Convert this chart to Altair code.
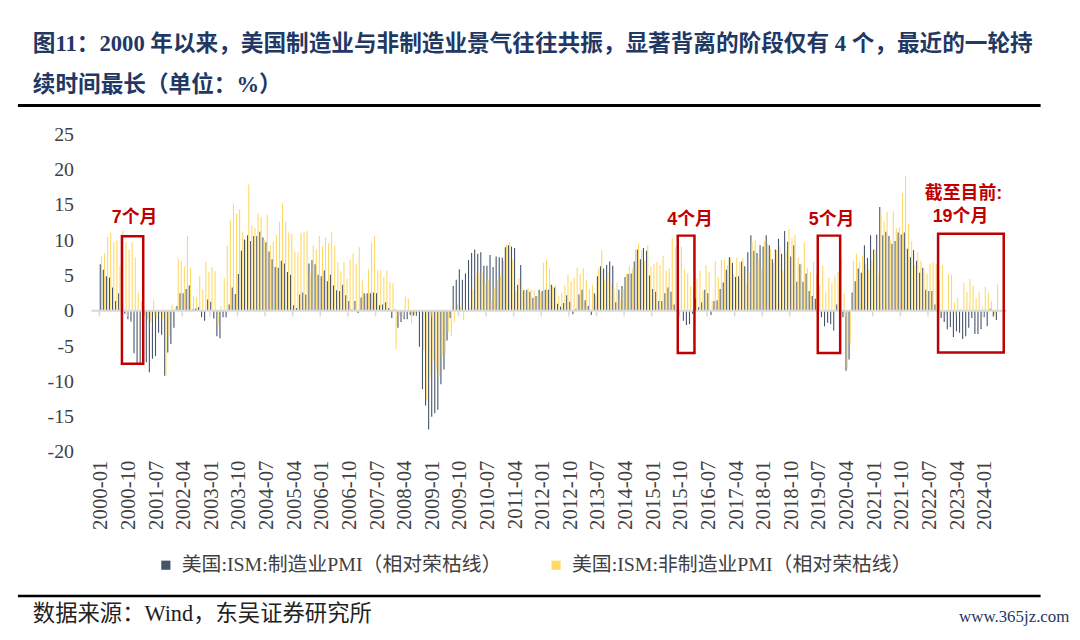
import altair as alt
import pandas as pd

S_MFG = "美国:ISM:制造业PMI（相对荣枯线）"
S_SVC = "美国:ISM:非制造业PMI（相对荣枯线）"

# ISM manufacturing PMI minus 50, monthly 2000-01 .. 2024-05
mfg = [
    6.6, 5.8, 4.9, 4.7, 3.3, 1.4, 2.5, -0.1, -0.4, -1.2, -1.5, -6.0,        # 2000
    -7.5, -7.7, -7.0, -7.3, -8.7, -6.8, -6.4, -3.1, -3.4, -9.2, -5.9, -4.7,  # 2001
    -2.4, 0.7, 2.5, 2.5, 3.1, 3.6, 0.2, 0.3, 0.5, -0.9, -1.4, 1.6,          # 2002
    1.3, -1.1, -3.6, -3.9, -0.9, -0.9, 0.9, 3.3, 2.4, 5.2, 8.5, 10.1,       # 2003
    10.7, 9.9, 10.6, 10.6, 11.2, 10.4, 9.7, 8.4, 7.3, 6.2, 6.1, 7.1,        # 2004
    6.7, 5.5, 5.1, 0.8, 0.4, 2.3, 2.6, 2.3, 6.7, 7.2, 6.6, 5.1,             # 2005
    4.9, 5.7, 4.2, 5.1, 3.6, 2.9, 2.8, 3.7, 2.2, 1.4, 0.2, 1.4,             # 2006
    -0.3, 1.9, 2.5, 2.5, 2.5, 2.6, 2.5, 0.8, 0.9, 1.2, 0.4, -1.0,           # 2007
    0.2, -2.4, -1.6, -1.2, -1.2, -0.6, -0.7, -0.7, -5.1, -11.1, -13.4, -16.8,  # 2008
    -15.0, -14.5, -14.0, -10.4, -8.3, -4.2, -1.0, 3.5, 4.4, 5.9, 4.4, 5.3,  # 2009
    7.2, 8.2, 8.7, 8.1, 8.3, 6.4, 6.4, 7.9, 6.2, 7.7, 7.6, 7.5,             # 2010
    9.0, 9.3, 9.1, 8.9, 3.7, 6.5, 2.9, 3.0, 2.7, 1.8, 2.1, 3.0,             # 2011
    2.8, 3.0, 3.0, 3.7, 3.3, 1.0, 0.6, 1.1, 2.2, 1.3, -0.5, 0.3,            # 2012
    2.3, 3.0, 1.5, 0.7, -0.6, 2.5, 4.9, 6.3, 6.0, 6.5, 7.0, 6.4,            # 2013
    1.2, 3.0, 3.5, 4.8, 5.2, 5.3, 7.0, 8.7, 7.3, 8.9, 8.5, 5.0,             # 2014
    3.1, 2.7, 1.4, 1.4, 2.5, 3.3, 2.7, 0.9, 0.2, 0.1, -1.4, -2.0,           # 2015
    -1.9, -0.4, 1.7, 0.5, 1.2, 3.0, 2.5, -0.6, 1.4, 1.5, 3.1, 4.0,          # 2016
    5.8, 7.6, 6.8, 4.8, 4.9, 7.0, 6.3, 8.3, 10.7, 8.5, 8.2, 9.3,            # 2017
    9.1, 10.7, 9.3, 7.3, 8.7, 10.2, 8.1, 11.3, 9.8, 7.7, 9.3, 4.1,          # 2018
    6.6, 4.1, 5.3, 2.8, 2.1, 1.7, 1.2, -0.9, -2.2, -1.7, -1.9, -2.8,        # 2019
    0.9, 0.1, -0.9, -8.5, -6.9, 2.6, 4.2, 6.0, 5.4, 9.3, 7.5, 10.7,         # 2020
    8.7, 10.8, 14.7, 10.7, 11.2, 10.6, 9.5, 9.9, 11.1, 10.8, 11.1, 8.8,     # 2021
    7.6, 8.6, 7.1, 5.4, 6.1, 3.0, 2.8, 2.8, 0.9, 0.2, -1.0, -1.6,           # 2022
    -2.6, -2.3, -3.7, -2.9, -3.1, -4.0, -3.6, -2.4, -1.0, -3.3, -3.3, -2.6, # 2023
    -0.9, -2.2, 0.3, -0.8, -1.3,                                            # 2024
]

# ISM non-manufacturing PMI minus 50, monthly 2000-01 .. 2024-05
svc = [
    7.7, 8.2, 10.5, 11.1, 9.8, 10.0, 6.4, 11.3, 9.8, 8.6, 9.7, 7.5,         # 2000
    2.6, 1.4, -0.6, -1.2, -1.6, 1.6, -1.0, -0.4, -1.2, -9.2, -3.5, 0.9,     # 2001
    0.5, 7.4, 7.1, 6.3, 10.6, 6.1, 2.1, 2.0, 4.9, 3.1, 6.9, 5.5,            # 2002
    6.2, 5.6, -2.0, 0.7, 4.6, 9.2, 12.8, 15.2, 13.8, 14.4, 11.1, 10.0,      # 2003
    17.9, 12.1, 11.8, 13.9, 13.3, 10.0, 13.6, 9.3, 9.8, 10.7, 12.6, 15.2,   # 2004
    12.6, 11.1, 10.9, 8.4, 8.3, 11.0, 11.1, 11.3, 5.3, 9.3, 8.7, 10.6,      # 2005
    9.1, 10.4, 9.6, 11.1, 9.2, 6.9, 5.6, 6.9, 4.5, 7.3, 8.2, 6.7,           # 2006
    9.0, 4.3, 2.3, 5.9, 9.7, 10.6, 5.7, 5.7, 4.8, 5.7, 4.1, 3.9,            # 2007
    -5.4, -0.7, -0.4, 2.0, 1.7, -1.8, -0.5, 0.0, 0.2, -5.6, -12.7, -9.4,    # 2008
    -7.1, -8.4, -9.2, -6.3, -6.0, -3.0, -3.6, -1.6, 0.9, 0.6, -1.3, -0.2,   # 2009
    0.5, 3.0, 5.4, 5.4, 5.4, 3.8, 4.3, 1.5, 3.2, 4.3, 5.0, 7.1,             # 2010
    9.4, 9.7, 7.3, 2.8, 4.6, 3.3, 2.7, 3.3, 3.0, 2.9, 2.0, 2.6,             # 2011
    6.8, 7.3, 6.0, 3.5, 3.7, 2.1, 2.6, 3.7, 5.1, 4.2, 4.7, 6.1,             # 2012
    5.2, 6.0, 4.4, 3.1, 3.7, 2.2, 6.0, 8.6, 4.4, 5.4, 3.9, 3.0,             # 2013
    4.0, 1.6, 3.1, 5.2, 6.3, 6.0, 8.7, 9.6, 8.6, 7.1, 9.3, 6.2,             # 2014
    6.7, 6.9, 6.5, 7.8, 5.7, 6.0, 10.3, 9.0, 6.9, 9.1, 5.9, 5.3,            # 2015
    3.5, 3.4, 4.5, 5.7, 2.9, 6.5, 5.5, 1.4, 7.1, 4.8, 7.2, 7.2,             # 2016
    6.5, 7.6, 5.2, 7.5, 6.9, 7.4, 3.9, 5.3, 9.8, 10.1, 7.4, 5.9,            # 2017
    9.9, 9.5, 8.8, 6.8, 8.6, 9.1, 5.7, 8.5, 11.6, 10.3, 10.7, 7.6,          # 2018
    6.7, 9.7, 6.1, 5.5, 6.9, 5.1, 3.7, 6.4, 2.6, 4.7, 3.9, 5.0,             # 2019
    5.5, 7.3, 2.5, -8.2, -4.6, 7.1, 8.1, 6.9, 7.8, 6.6, 5.9, 7.2,           # 2020
    8.7, 5.3, 13.7, 12.7, 14.0, 10.1, 14.1, 11.7, 11.9, 16.7, 19.1, 12.3,   # 2021
    9.9, 6.5, 8.3, 7.1, 5.9, 5.3, 6.7, 6.9, 6.7, 4.4, 6.5, -0.4,            # 2022
    5.2, 5.1, 1.2, 1.9, 0.3, 3.9, 2.7, 4.5, 3.6, 1.8, 2.7, 0.5,             # 2023
    3.4, 2.6, 1.4, -0.6, 3.8,                                               # 2024
]

tick_labels = [
    "2000-01", "2000-10", "2001-07", "2002-04", "2003-01", "2003-10", "2004-07",
    "2005-04", "2006-01", "2006-10", "2007-07", "2008-04", "2009-01", "2009-10",
    "2010-07", "2011-04", "2012-01", "2012-10", "2013-07", "2014-04", "2015-01",
    "2015-10", "2016-07", "2017-04", "2018-01", "2018-10", "2019-07", "2020-04",
    "2021-01", "2021-10", "2022-07", "2023-04", "2024-01",
]
y_ticks = [-20, -15, -10, -5, 0, 5, 10, 15, 20, 25]

# divergence boxes (month-index range, value range)
box_x1 = [6.86, 187.98, 233.6, 272.8]
box_x2 = [13.8, 193.42, 240.9, 294.2]
box_y1 = [10.56, 10.65, 10.65, 10.9]
box_y2 = [-7.5, -5.98, -5.98, -5.9]

ann_text = ["7个月", "4个月", "5个月", "截至目前:", "19个月"]
ann_x = [11.0, 192.0, 238.1, 281.1, 280.1]
ann_y = [13.15, 12.86, 12.9, 16.6, 13.23]

TITLE1 = "图11：2000 年以来，美国制造业与非制造业景气往往共振，显著背离的阶段仅有 4 个，最近的一轮持"
TITLE2 = "续时间最长（单位：%）"
SOURCE = "数据来源：Wind，东吴证券研究所"
WATERMARK = "www.365jz.com"

n = len(mfg)
offset = {S_MFG: -0.2, S_SVC: 0.2}
rows = []
for i in range(n):
    rows.append({"idx": i, "pos": i + offset[S_MFG], "value": mfg[i], "series": S_MFG})
    rows.append({"idx": i, "pos": i + offset[S_SVC], "value": svc[i], "series": S_SVC})
df = pd.DataFrame(rows)

W = n * 3.125
H = 320
SERIF = "Liberation Serif, Noto Sans CJK SC"

label_expr = "[" + ",".join("'" + t + "'" for t in tick_labels) + "][round(datum.value/9)]"
x_scale = alt.Scale(domain=[-0.5, n - 0.5], nice=False, zero=False)
y_scale = alt.Scale(domain=[-20, 25], nice=False)

X_AXIS = alt.Axis(values=list(range(0, 289, 9)), labelExpr=label_expr,
                  labelAngle=-90, labelFont="Liberation Serif", labelFontSize=21,
                  labelColor="#404040", labelPadding=8, domain=False, ticks=False,
                  grid=False, title=None, labelOverlap=False, labelFlush=False,
                  labelBound=False, tickCount=40)
Y_AXIS = alt.Axis(values=y_ticks, labelExpr="datum.value + ''",
                  labelFont="Liberation Serif", labelFontSize=20,
                  labelColor="#404040", labelPadding=21, domain=False,
                  ticks=False, grid=False, title=None, labelOverlap=False,
                  labelFlush=False, labelBound=False, tickCount=20)


def X(field):
    return alt.X(field, scale=x_scale, axis=X_AXIS)


def Y(field):
    return alt.Y(field, scale=y_scale, axis=Y_AXIS)


bars = alt.Chart(df).mark_bar(size=1.1, orient="vertical").encode(
    x=X("pos:Q"),
    y=Y("value:Q"),
    color=alt.Color("series:N",
                    scale=alt.Scale(domain=[S_MFG, S_SVC], range=["#44546A", "#FFD966"]),
                    legend=alt.Legend(orient="none", legendX=62, legendY=424,
                                      direction="horizontal", title=None,
                                      symbolType="square", symbolSize=85,
                                      symbolStrokeWidth=0, labelFont=SERIF,
                                      labelFontSize=20, labelColor="#404040",
                                      labelLimit=600, columnPadding=44, labelOffset=6)),
)

zero_line = alt.Chart(pd.DataFrame({"z": [0]})).mark_rule(
    color="#D9D9D9", strokeWidth=2
).encode(y=Y("z:Q"), x=alt.value(-3), x2=alt.value(W + 3))

tick_df = pd.DataFrame({"tx": [k - 0.5 for k in range(0, 289, 9)],
                        "t0": [0] * 33, "t1": [-0.8] * 33})
ticks = alt.Chart(tick_df).mark_rule(color="#D9D9D9", strokeWidth=1.5).encode(
    x=X("tx:Q"), y=Y("t0:Q"), y2="t1:Q")

box_df = pd.DataFrame({"bx": box_x1, "bx2": box_x2, "by": box_y1, "by2": box_y2})
boxes = alt.Chart(box_df).mark_rect(
    fillOpacity=0, stroke="#C00000", strokeWidth=2.5
).encode(x=X("bx:Q"), x2="bx2:Q", y=Y("by:Q"), y2="by2:Q")

ann_df = pd.DataFrame({"ax": ann_x, "ay": ann_y, "at": ann_text})
anns = alt.Chart(ann_df).mark_text(
    font="Liberation Sans, Noto Sans CJK SC", fontWeight="bold", fontSize=18,
    color="#C00000", align="center", baseline="middle"
).encode(x=X("ax:Q"), y=Y("ay:Q"), text="at:N")


def text_layer(t, x, y, size, color, weight="normal", align="left", font=SERIF):
    return alt.Chart(pd.DataFrame({"t": [t]})).mark_text(
        font=font, fontSize=size, fontWeight=weight, color=color,
        align=align, baseline="middle"
    ).encode(x=alt.value(x), y=alt.value(y), text="t:N")


def hrule(y, w):
    return alt.Chart(pd.DataFrame({"r": [0]})).mark_rule(
        color="#000000", strokeWidth=w
    ).encode(x=alt.value(-77), x2=alt.value(953), y=alt.value(y))


title1 = text_layer(TITLE1, -62, -91, 22.8, "#1F3864", "bold")
title2 = text_layer(TITLE2, -62, -50, 22.8, "#1F3864", "bold")
source = text_layer(SOURCE, -62, 483, 22.5, "#222222")
wmark = text_layer(WATERMARK, 982, 486, 17, "#1F3864", align="right", font="Liberation Serif")

chart = alt.layer(
    bars, zero_line, ticks, boxes, anns,
    title1, title2, hrule(-29, 3), hrule(465, 2.5), source, wmark
).properties(
    width=W, height=H,
    autosize=alt.AutoSizeParams(type="none"),
    padding={"left": 87, "top": 125, "right": 69, "bottom": 173},
    background="white",
).configure_view(stroke=None).configure_axis(labelOverlap=False)

chart.save("out.html", embed_options={"renderer": "svg", "actions": False})
